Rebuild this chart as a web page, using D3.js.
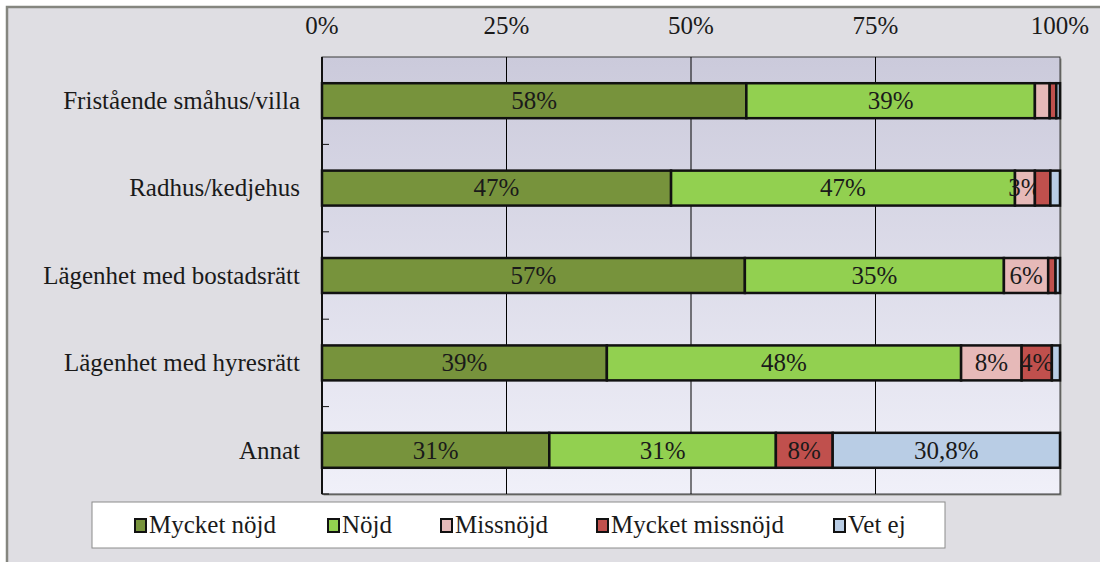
<!DOCTYPE html>
<html>
<head>
<meta charset="utf-8">
<script src="https://cdn.jsdelivr.net/npm/d3@7"></script>
<style>
  body { margin: 0; background: #ffffff; }
</style>
</head>
<body>
<div id="chart"></div>
<script>
// categories and series (percent)
let categories = ['Fristående småhus/villa', 'Radhus/kedjehus', 'Lägenhet med bostadsrätt', 'Lägenhet med hyresrätt', 'Annat'];
let seriesNames = ['Mycket nöjd', 'Nöjd', 'Missnöjd', 'Mycket missnöjd', 'Vet ej'];
let mycketNojd = [57.5, 47.3, 57.3, 38.6, 30.8];
let nojd = [39.1, 46.6, 35.1, 48.0, 30.7];
let missnojd = [2.0, 2.7, 6.0, 8.2, 0];
let mycketMissnojd = [0.9, 2.1, 1.0, 4.1, 7.7];
let vetEj = [0.5, 1.3, 0.6, 1.1, 30.8];
// value labels as shown in the chart ('' = no label)
let mycketNojdLabels = ['58%', '47%', '57%', '39%', '31%'];
let nojdLabels = ['39%', '47%', '35%', '48%', '31%'];
let missnojdLabels = ['', '3%', '6%', '8%', ''];
let mycketMissnojdLabels = ['', '', '', '4%', '8%'];
let vetEjLabels = ['', '', '', '', '30,8%'];
let xTicks = [0, 25, 50, 75, 100];

let colors = ['#77933c', '#92d050', '#e6b9b8', '#c0504d', '#b9cde5'];
let seriesValues = [mycketNojd, nojd, missnojd, mycketMissnojd, vetEj];
let seriesLabels = [mycketNojdLabels, nojdLabels, missnojdLabels, mycketMissnojdLabels, vetEjLabels];

let fontFamily = "'Liberation Serif', 'DejaVu Serif', 'Times New Roman', serif";
let fontSize = "25px";
let totalWidth = 1100;
let totalHeight = 562;
let margin = { top: 57, right: 40, bottom: 68, left: 322 };
let innerWidth = totalWidth - margin.left - margin.right;
let innerHeight = totalHeight - margin.top - margin.bottom;

// build stacked rows
let rows = categories.map(function(c, i) {
    let row = { category: c };
    seriesNames.forEach(function(s, j) { row[s] = seriesValues[j][i]; });
    return row;
});
let stacked = d3.stack().keys(seriesNames)(rows);

var x = d3.scaleLinear().domain([0, 100]).range([0, innerWidth]);
var y = d3.scaleBand().domain(categories).range([0, innerHeight]).paddingInner(0.6).paddingOuter(0.3);
var yOuter = d3.scaleBand().domain(categories).range([0, innerHeight]);

var root = d3.select("#chart").append("svg")
    .attr("width", totalWidth)
    .attr("height", totalHeight)
    .attr("font-family", fontFamily)
    .style("font-family", fontFamily);

var defs = root.append("defs");
var grad = defs.append("linearGradient")
    .attr("id", "plotBg")
    .attr("x1", 0).attr("y1", 0).attr("x2", 0).attr("y2", 1);
grad.append("stop").attr("offset", "0%").attr("stop-color", "#cbcadb");
grad.append("stop").attr("offset", "100%").attr("stop-color", "#f0f0f9");

// outer chart area
root.append("rect")
    .attr("x", 7).attr("y", 7)
    .attr("width", totalWidth - 7).attr("height", totalHeight - 7)
    .attr("fill", "#dfdee3");
root.append("path")
    .attr("d", "M7," + totalHeight + "V7H" + totalWidth)
    .attr("fill", "none")
    .attr("stroke", "#85867f")
    .attr("stroke-width", 2.5);

var svg = root.append("g")
    .attr("transform", "translate(" + margin.left + "," + margin.top + ")");

// plot background with shadow
svg.append("rect")
    .attr("x", 1.5).attr("y", 1.5)
    .attr("width", innerWidth).attr("height", innerHeight)
    .attr("fill", "#8a8b86");
svg.append("rect")
    .attr("width", innerWidth).attr("height", innerHeight)
    .attr("fill", "url(#plotBg)")
    .attr("stroke", "#3a3a3a")
    .attr("stroke-width", 1);

// gridlines
svg.append("g")
    .selectAll("line")
    .data(xTicks.slice(1, -1))
    .enter().append("line")
    .attr("x1", function(d) { return x(d); })
    .attr("x2", function(d) { return x(d); })
    .attr("y1", 0)
    .attr("y2", innerHeight)
    .attr("stroke", "#000")
    .attr("stroke-width", 1);

// top axis labels
svg.append("g")
    .selectAll("text")
    .data(xTicks)
    .enter().append("text")
    .attr("x", function(d) { return x(d); })
    .attr("y", -23)
    .attr("text-anchor", "middle")
    .attr("fill", "#1a1a1a")
    .style("font-size", fontSize)
    .text(function(d) { return d + "%"; });

// bars
var layer = svg.selectAll(".layer")
    .data(stacked)
    .enter().append("g")
    .attr("class", "layer")
    .attr("fill", function(d, i) { return colors[i]; });

layer.selectAll("rect")
    .data(function(d) { return d.filter(function(p) { return p[1] - p[0] > 0; }); })
    .enter().append("rect")
    .attr("x", function(d) { return x(d[0]); })
    .attr("y", function(d) { return y(d.data.category); })
    .attr("width", function(d) { return x(d[1]) - x(d[0]); })
    .attr("height", y.bandwidth())
    .attr("stroke", "#111")
    .attr("stroke-width", 2.5);

// value labels (only where the chart shows one)
layer.each(function(s, si) {
    let labelled = s.map(function(p, i) { return { p: p, label: seriesLabels[si][i] }; })
        .filter(function(d) { return d.label !== ''; });
    d3.select(this).selectAll("text")
        .data(labelled)
        .enter().append("text")
        .attr("x", function(d) { return (x(d.p[0]) + x(d.p[1])) / 2; })
        .attr("y", function(d) { return y(d.p.data.category) + y.bandwidth() / 2; })
        .attr("dy", "0.33em")
        .attr("text-anchor", "middle")
        .attr("fill", "#1a1a1a")
        .style("font-size", fontSize)
        .text(function(d) { return d.label; });
});

// left axis with ticks between categories
svg.append("line")
    .attr("x1", 0).attr("x2", 0)
    .attr("y1", 0).attr("y2", innerHeight)
    .attr("stroke", "#111").attr("stroke-width", 2);
svg.append("g")
    .selectAll("line")
    .data(categories.slice(1).concat(["__end"]))
    .enter().append("line")
    .attr("x1", 0).attr("x2", 7)
    .attr("y1", function(d, i) { return i < categories.length - 1 ? yOuter(d) : innerHeight; })
    .attr("y2", function(d, i) { return i < categories.length - 1 ? yOuter(d) : innerHeight; })
    .attr("stroke", "#111").attr("stroke-width", 1);

// category labels
svg.append("g")
    .selectAll("text")
    .data(categories)
    .enter().append("text")
    .attr("x", -22)
    .attr("y", function(d) { return y(d) + y.bandwidth() / 2; })
    .attr("dy", "0.33em")
    .attr("text-anchor", "end")
    .attr("fill", "#1a1a1a")
    .style("font-size", fontSize)
    .text(function(d) { return d; });

// legend
var legend = root.append("g").attr("transform", "translate(92,502)");
legend.append("rect")
    .attr("width", 853).attr("height", 46)
    .attr("fill", "#fff")
    .attr("stroke", "#8c8c8c")
    .attr("stroke-width", 1);
let legendX = [43, 236, 349, 505, 742];
var item = legend.selectAll(".item")
    .data(seriesNames)
    .enter().append("g")
    .attr("class", "item")
    .attr("transform", function(d, i) { return "translate(" + legendX[i] + ",0)"; });
item.append("rect")
    .attr("x", 0).attr("y", 17)
    .attr("width", 11).attr("height", 13)
    .attr("fill", function(d, i) { return colors[i]; })
    .attr("stroke", "#111")
    .attr("stroke-width", 2);
item.append("text")
    .attr("x", 14)
    .attr("y", 31)
    .attr("fill", "#1a1a1a")
    .style("font-size", fontSize)
    .text(function(d) { return d; });
</script>
</body>
</html>
